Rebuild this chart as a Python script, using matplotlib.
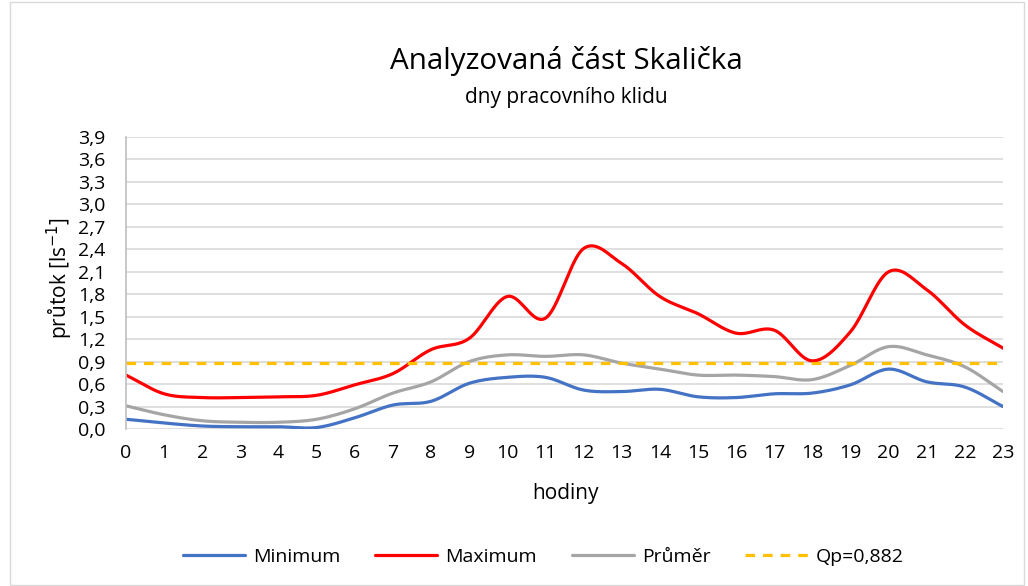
import numpy as np
import matplotlib.pyplot as plt
from matplotlib.patches import Rectangle

hours = list(range(24))
minimum = [0.13, 0.08, 0.04, 0.03, 0.03, 0.02, 0.15, 0.32, 0.37, 0.61, 0.69, 0.69,
           0.52, 0.50, 0.53, 0.43, 0.42, 0.47, 0.48, 0.59, 0.80, 0.63, 0.56, 0.30]
maximum = [0.72, 0.47, 0.42, 0.42, 0.43, 0.45, 0.59, 0.74, 1.06, 1.21, 1.77, 1.48,
           2.41, 2.21, 1.77, 1.54, 1.28, 1.32, 0.91, 1.30, 2.10, 1.86, 1.39, 1.08]
prumer = [0.31, 0.19, 0.11, 0.09, 0.09, 0.13, 0.27, 0.48, 0.63, 0.90, 0.99, 0.97,
          0.99, 0.88, 0.80, 0.72, 0.72, 0.70, 0.66, 0.85, 1.10, 0.99, 0.83, 0.50]
qp = 0.882
yticks = np.round(np.arange(0, 3.91, 0.3), 1)
ytick_labels = [f"{v:.1f}".replace(".", ",") for v in yticks]

plt.rcParams['font.family'] = ['Open Sans', 'DejaVu Sans']

W, H = 1028, 586


def smooth(x, y, n=20):
    # catmull-rom curve through the points, like excel's smoothed line
    x = np.asarray(x, float)
    y = np.asarray(y, float)
    px = np.concatenate([[2 * x[0] - x[1]], x, [2 * x[-1] - x[-2]]])
    py = np.concatenate([[2 * y[0] - y[1]], y, [2 * y[-1] - y[-2]]])
    xs, ys = [], []
    for i in range(1, len(px) - 2):
        t = np.linspace(0, 1, n, endpoint=False)
        for p, out in ((px, xs), (py, ys)):
            p0, p1, p2, p3 = p[i - 1], p[i], p[i + 1], p[i + 2]
            out.extend(0.5 * (2 * p1 + (-p0 + p2) * t + (2 * p0 - 5 * p1 + 4 * p2 - p3) * t ** 2
                              + (-p0 + 3 * p1 - 3 * p2 + p3) * t ** 3))
    xs.append(x[-1])
    ys.append(y[-1])
    return np.array(xs), np.array(ys)


fig = plt.figure(figsize=(W / 100, H / 100), dpi=100)
ax = fig.add_axes([126 / W, 1 - 429 / H, 877 / W, 292 / H])

for data, color, label in ((minimum, '#4472C4', 'Minimum'),
                           (maximum, '#FF0000', 'Maximum'),
                           (prumer, '#A5A5A5', 'Průměr')):
    sx, sy = smooth(hours, data)
    ax.plot(sx, sy, color=color, lw=2.3, label=label, solid_capstyle='round')
ax.plot([hours[0], hours[-1]], [qp, qp], color='#FFC000', lw=2.3, ls=(0, (3, 2.5)),
        label='Qp=0,882')

ax.set_xlim(0, 23)
ax.set_ylim(0, 3.9)
ax.set_xticks(hours)
ax.set_xticklabels([str(h) for h in hours], fontsize=14)
ax.set_yticks(yticks)
ax.set_yticklabels(ytick_labels, fontsize=14)
ax.tick_params(axis='x', length=0, pad=11)
ax.tick_params(axis='y', length=0, pad=15)
ax.grid(axis='y', color='#D9D9D9', lw=1.2)
ax.set_axisbelow(True)
for s in ['top', 'right', 'bottom']:
    ax.spines[s].set_visible(False)
ax.spines['left'].set_color('#BFBFBF')
ax.spines['left'].set_linewidth(1.2)

fig.text(565 / W, 1 - 494 / H, 'hodiny', ha='center', va='center', fontsize=15)
fig.text(60 / W, 1 - 278 / H, 'průtok [ls$^{-1}$]', ha='center', va='center',
         rotation=90, fontsize=15)

fig.text(566 / W, 1 - 61 / H, 'Analyzovaná část Skalička', ha='center', va='center', fontsize=21.3)
fig.text(566 / W, 1 - 97 / H, 'dny pracovního klidu', ha='center', va='center', fontsize=15)

fig.legend(loc='center', bbox_to_anchor=(543 / W, 1 - 557 / H), ncol=4, frameon=False,
           fontsize=14, handlelength=3.2, handletextpad=0.4, columnspacing=1.8)

fig.patches.append(Rectangle((10 / W, 1 / H), 1014 / W, 583 / H, transform=fig.transFigure,
                             fill=False, edgecolor='#D9D9D9', lw=1))

fig.savefig('out.png', dpi=100)
